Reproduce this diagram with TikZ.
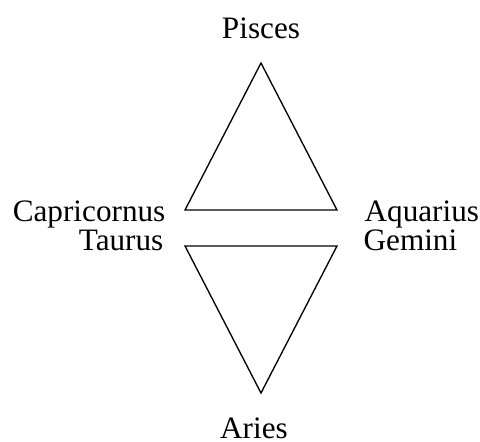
\documentclass[tikz,border=0pt]{standalone}
\usepackage{fontspec}
\setmainfont{Liberation Serif}
\begin{document}
\begin{tikzpicture}[x=0.375pt,y=-0.375pt,line width=0.5pt,
  font=\fontsize{11.7}{14}\selectfont]
\useasboundingbox (0,0) rectangle (480,441);
\coordinate (top) at (261,63);
\coordinate (ul) at (185,210);
\coordinate (ur) at (337,210);
\coordinate (ll) at (185,246);
\coordinate (lr) at (337,246);
\coordinate (bot) at (261,393);

\draw (top) -- (ur) -- (ul) -- cycle;
\draw (ll) -- (lr) -- (bot) -- cycle;

\node[anchor=base,inner sep=0pt] (pisces) at (261,38) {Pisces};
\node[anchor=base east,inner sep=0pt] (capri) at (166,221) {Capricornus};
\node[anchor=base west,inner sep=0pt] (aqua) at (364,221) {Aquarius};
\node[anchor=base east,inner sep=0pt] (taurus) at (164,250) {Taurus};
\node[anchor=base west,inner sep=0pt] (gemini) at (363,250) {Gemini};
\node[anchor=base,inner sep=0pt] (aries) at (254,438) {Aries};
\end{tikzpicture}
\end{document}
